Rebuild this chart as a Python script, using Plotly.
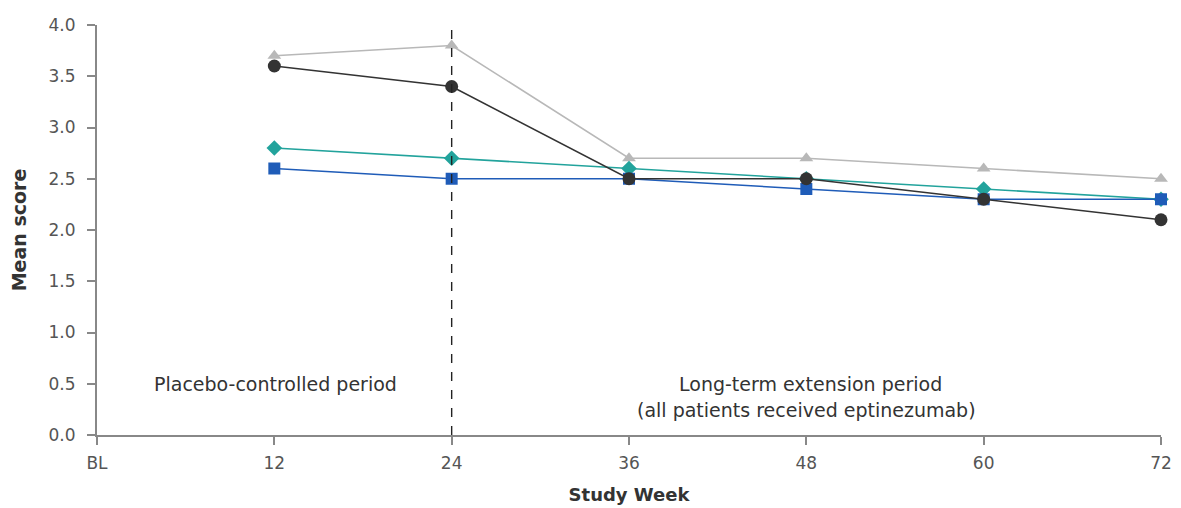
import plotly.graph_objects as go

weeks = [12, 24, 36, 48, 60, 72]
tick_vals = [0, 12, 24, 36, 48, 60, 72]
tick_text = ["BL", "12", "24", "36", "48", "60", "72"]
y_ticks = [0, 0.5, 1, 1.5, 2, 2.5, 3, 3.5, 4]

gray_tri = [3.7, 3.8, 2.7, 2.7, 2.6, 2.5]
black_circ = [3.6, 3.4, 2.5, 2.5, 2.3, 2.1]
teal_diam = [2.8, 2.7, 2.6, 2.5, 2.4, 2.3]
blue_sq = [2.6, 2.5, 2.5, 2.4, 2.3, 2.3]

fig = go.Figure()

series = [
    (gray_tri, "#b8b8b8", "triangle-up", 12),
    (teal_diam, "#22a39c", "diamond", 12),
    (blue_sq, "#1f5cb8", "square", 12),
    (black_circ, "#333333", "circle", 13),
]
for vals, col, sym, sz in series:
    fig.add_trace(go.Scatter(
        x=weeks, y=vals, mode="lines+markers",
        line=dict(color=col, width=1.6),
        marker=dict(symbol=sym, size=sz, color=col),
        cliponaxis=False, showlegend=False,
    ))

fig.add_shape(type="line", xref="x", yref="paper", x0=24, x1=24, y0=0, y1=1.01,
              line=dict(color="#222222", width=1.4, dash="dash"))

font_ann = dict(family="DejaVu Sans", size=19, color="#333333")
fig.add_annotation(x=12.05, y=0.5, xref="x", yref="y", text="Placebo-controlled period",
                   showarrow=False, font=font_ann)
fig.add_annotation(x=48.3, y=0.5, xref="x", yref="y", text="Long-term extension period",
                   showarrow=False, font=font_ann)
fig.add_annotation(x=48.0, y=0.24, xref="x", yref="y", text="(all patients received eptinezumab)",
                   showarrow=False, font=font_ann)

fig.update_layout(
    width=1181, height=508,
    margin=dict(l=97, r=20, t=25, b=73),
    paper_bgcolor="white", plot_bgcolor="white",
    font=dict(family="DejaVu Sans", size=17, color="#555555"),
)
fig.update_xaxes(
    range=[0, 72], tickvals=tick_vals, ticktext=tick_text, automargin=False,
    showgrid=False, zeroline=False, showline=True, linecolor="#888888", linewidth=2,
    ticks="outside", ticklen=8, tickcolor="#888888", tickwidth=1.5,
    ticklabelstandoff=4,
    title=dict(text="<b>Study Week</b>", font=dict(size=18, color="#333333"), standoff=16),
)
fig.update_yaxes(
    range=[0, 4.0], tickvals=y_ticks, tickformat=".1f", automargin=False,
    showgrid=False, zeroline=False, showline=True, linecolor="#888888", linewidth=2,
    ticks="outside", ticklen=8, tickcolor="#888888", tickwidth=1.5,
    ticklabelstandoff=8,
    title=dict(text="<b>Mean score</b>", font=dict(size=19, color="#333333"), standoff=17),
)

fig.write_html("out.html", config={"displayModeBar": False})
with open("out.html", "r", encoding="utf-8") as f:
    html = f.read()
html = html.replace("<head>", "<head><style>body{margin:0;padding:0;}</style>", 1)
with open("out.html", "w", encoding="utf-8") as f:
    f.write(html)
